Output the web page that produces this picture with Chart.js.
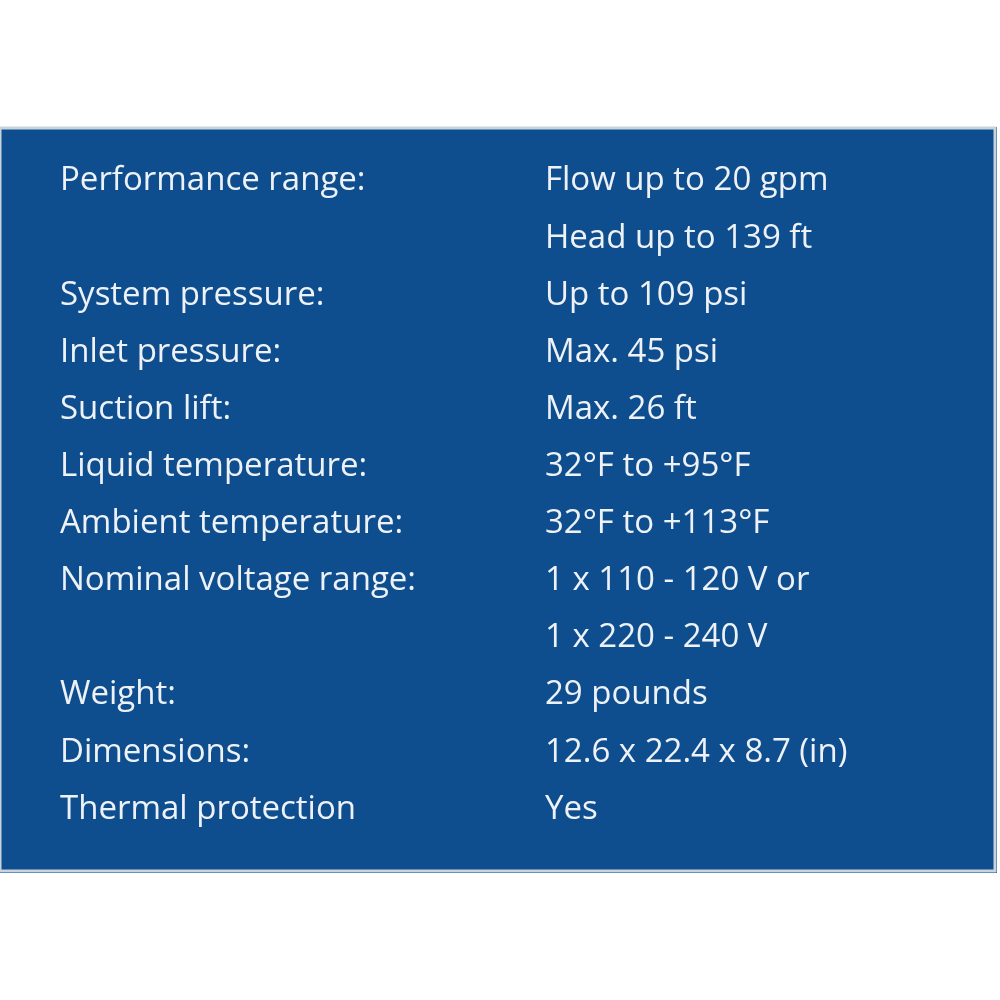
<!DOCTYPE html>
<html>
<head>
<meta charset="utf-8">
<script src="https://cdn.jsdelivr.net/npm/chart.js@4"></script>
<style>
  html, body { margin: 0; padding: 0; background: #fff; }
</style>
</head>
<body>
<canvas id="canvas" width="1000" height="1000"></canvas>
<script>
// spec rows: label column and value column
var labels = [
  "Performance range:", "", "System pressure:", "Inlet pressure:", "Suction lift:",
  "Liquid temperature:", "Ambient temperature:", "Nominal voltage range:", "",
  "Weight:", "Dimensions:", "Thermal protection"
];
var values = [
  "Flow up to 20 gpm", "Head up to 139 ft", "Up to 109 psi", "Max. 45 psi", "Max. 26 ft",
  "32°F to +95°F", "32°F to +113°F", "1 x 110 - 120 V or", "1 x 220 - 240 V",
  "29 pounds", "12.6 x 22.4 x 8.7 (in)", "Yes"
];

var tablePlugin = {
  id: "specTable",
  beforeDraw: function(chart) {
    var c = chart.ctx;
    c.save();
    c.fillStyle = "#ffffff";
    c.fillRect(0, 0, chart.width, chart.height);
    c.fillStyle = "#0f4e8e";
    c.fillRect(0, 127, 997, 746);
    c.strokeStyle = "#c9d3df";
    c.lineWidth = 3;
    c.strokeRect(0, 128, 995, 743);
    c.restore();
  },
  afterDraw: function(chart) {
    var c = chart.ctx;
    var y = chart.scales.y;
    c.save();
    c.fillStyle = "#eef2f7";
    c.font = "33px 'Open Sans', sans-serif";
    c.textBaseline = "middle";
    labels.forEach(function(l, i) {
      var py = y.getPixelForValue(i);
      c.fillText(l, 60, py);
      c.fillText(values[i], 545, py);
    });
    c.restore();
  }
};

new Chart(document.getElementById("canvas").getContext("2d"), {
  type: "scatter",
  data: { datasets: [{ data: [] }] },
  options: {
    responsive: false,
    animation: false,
    devicePixelRatio: 1,
    layout: { padding: 0 },
    plugins: { legend: { display: false }, tooltip: { enabled: false } },
    scales: {
      x: { display: false, min: 0, max: 1 },
      y: { type: "linear", display: false, reverse: true, min: -3.17, max: 14.34 }
    }
  },
  plugins: [tablePlugin]
});
</script>
</body>
</html>
